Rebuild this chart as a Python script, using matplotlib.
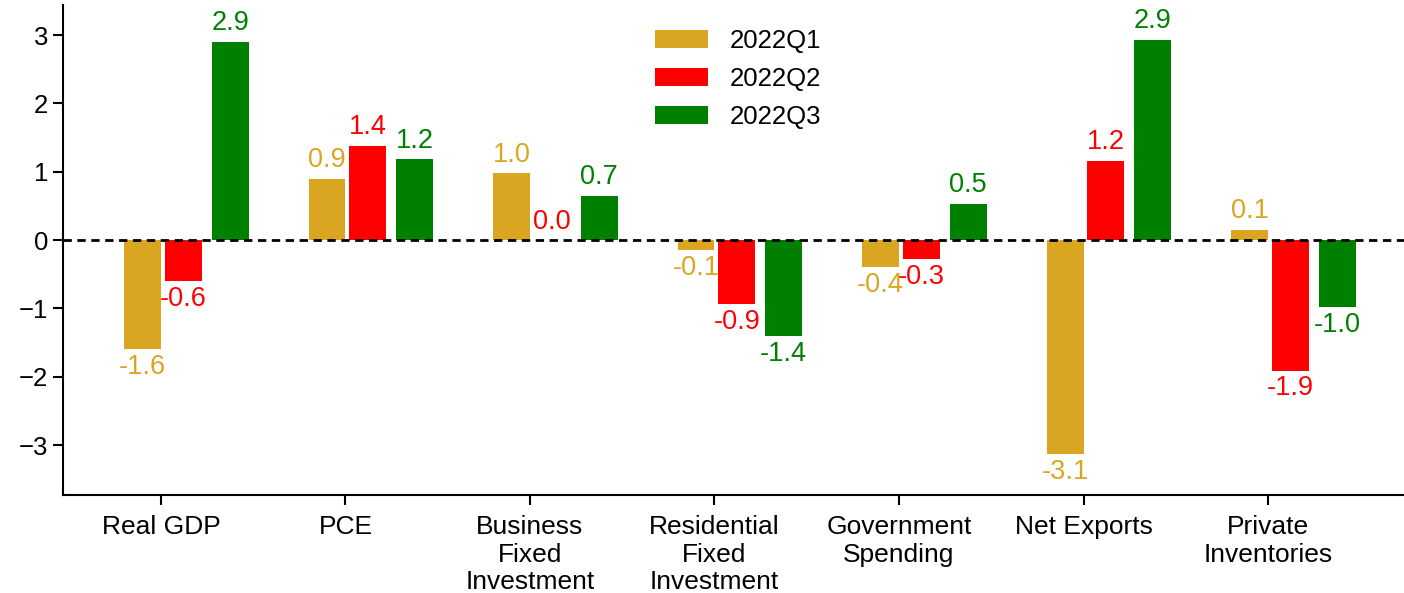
import matplotlib
matplotlib.use("Agg")
import matplotlib.pyplot as plt
import numpy as np

categories = ["Real GDP", "PCE", "Business\nFixed\nInvestment", "Residential\nFixed\nInvestment",
              "Government\nSpending", "Net Exports", "Private\nInventories"]
series_names = ["2022Q1", "2022Q2", "2022Q3"]
q1 = [-1.60, 0.90, 0.98, -0.15, -0.40, -3.13, 0.15]
q2 = [-0.60, 1.38, 0.00, -0.94, -0.28, 1.16, -1.91]
q3 = [2.90, 1.18, 0.65, -1.40, 0.53, 2.93, -0.98]
colors = ["#DAA520", "#FF0000", "#008000"]

plt.rcParams['font.family'] = ['Liberation Sans', 'DejaVu Sans']

fig = plt.figure(figsize=(14.04, 5.93), dpi=100)
ax = fig.add_axes([63/1404, 1 - 495/593, 1 - 63/1404, (495 - 5)/593])

x = np.arange(len(categories))
width = 0.2
offsets = [-0.1, 0.12, 0.375]
for vals, off, col, name in zip([q1, q2, q3], offsets, colors, series_names):
    bars = ax.bar(x + off, vals, width=width, color=col, label=name)
    for b, v in zip(bars, vals):
        cx = b.get_x() + b.get_width() / 2
        if v >= 0:
            ax.annotate(f"{v:.1f}", (cx, v), xytext=(0, 4), textcoords="offset points",
                        ha="center", va="bottom", color=col, fontsize=19.5)
        else:
            ax.annotate(f"{v:.1f}", (cx, v), xytext=(0, -3.5), textcoords="offset points",
                        ha="center", va="top", color=col, fontsize=19.5)

ax.axhline(0, color="black", lw=2, ls=(0, (3, 2)))
ax.set_xlim(-0.531, 6.737)
ax.set_ylim(-3.73, 3.44)
ax.set_yticks([-3, -2, -1, 0, 1, 2, 3])
ax.set_yticklabels(["\u22123", "\u22122", "\u22121", "0", "1", "2", "3"])
ax.set_xticks(x)
ax.set_xticklabels(categories, fontsize=19, linespacing=1.18)
ax.tick_params(axis="y", labelsize=18.5, length=7, width=1.5, direction="out")
ax.tick_params(axis="x", length=7, width=1.5, direction="out", pad=7.5)
for s in ["top", "right"]:
    ax.spines[s].set_visible(False)
for s in ["left", "bottom"]:
    ax.spines[s].set_linewidth(1.5)

ax.legend(loc="upper left", bbox_to_anchor=(642/1404, 1 - 16/593), bbox_transform=fig.transFigure,
          frameon=False, fontsize=18.5, handlelength=2.06, handleheight=0.7, labelspacing=0.55,
          handletextpad=0.85, borderpad=0)

fig.savefig("out.png", dpi=100)
